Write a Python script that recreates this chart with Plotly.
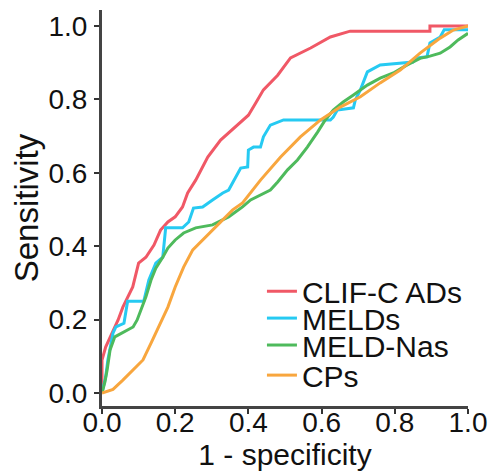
import plotly.graph_objects as go

# ROC curves
names = ["CLIF-C ADs", "MELDs", "MELD-Nas", "CPs"]
colors = ["rgb(240,88,102)", "rgb(38,202,242)", "rgb(78,186,92)", "rgb(248,166,62)"]

x_red = [0, 0.0, 0.01, 0.019, 0.03, 0.044, 0.057, 0.071, 0.084, 0.10, 0.12, 0.142, 0.16, 0.18, 0.20, 0.22,
         0.234, 0.256, 0.289, 0.324, 0.36, 0.40, 0.42, 0.441, 0.48, 0.515, 0.57, 0.624, 0.678, 0.896, 0.896, 1.0]
y_red = [0, 0.09, 0.125, 0.144, 0.172, 0.199, 0.234, 0.262, 0.289, 0.354, 0.37, 0.403, 0.444, 0.466, 0.48, 0.507,
         0.545, 0.58, 0.643, 0.689, 0.722, 0.757, 0.79, 0.826, 0.866, 0.913, 0.94, 0.97, 0.986, 0.986, 1.0, 1.0]

x_cyan = [0, 0.01, 0.016, 0.022, 0.03, 0.038, 0.06, 0.07, 0.114, 0.128, 0.147, 0.166, 0.174, 0.22, 0.237, 0.25,
          0.275, 0.302, 0.33, 0.346, 0.36, 0.379, 0.398, 0.40, 0.414, 0.433, 0.441, 0.46, 0.496, 0.624, 0.632,
          0.643, 0.687, 0.692, 0.706, 0.725, 0.76, 0.834, 0.85, 0.861, 0.888, 0.896, 0.924, 0.935, 0.96, 1.0]
y_cyan = [0, 0.044, 0.09, 0.125, 0.163, 0.18, 0.19, 0.25, 0.25, 0.308, 0.354, 0.37, 0.45, 0.45, 0.466, 0.504,
          0.507, 0.526, 0.545, 0.553, 0.58, 0.613, 0.616, 0.662, 0.67, 0.67, 0.698, 0.73, 0.744, 0.744, 0.752,
          0.771, 0.777, 0.798, 0.826, 0.875, 0.894, 0.902, 0.902, 0.913, 0.916, 0.954, 0.97, 0.99, 0.99, 0.99]

x_green = [0, 0.008, 0.014, 0.022, 0.035, 0.055, 0.071, 0.085, 0.096, 0.106, 0.12, 0.134, 0.147, 0.166, 0.18,
           0.20, 0.223, 0.256, 0.302, 0.346, 0.384, 0.406, 0.433, 0.46, 0.48, 0.507, 0.534, 0.561, 0.589, 0.61,
           0.632, 0.659, 0.687, 0.725, 0.76, 0.796, 0.834, 0.869, 0.896, 0.924, 0.951, 0.973, 1.0]
y_green = [0, 0.03, 0.063, 0.117, 0.153, 0.163, 0.172, 0.18, 0.199, 0.226, 0.262, 0.308, 0.34, 0.37, 0.395,
           0.417, 0.436, 0.45, 0.458, 0.48, 0.507, 0.526, 0.54, 0.553, 0.575, 0.608, 0.635, 0.67, 0.711, 0.744,
           0.771, 0.793, 0.812, 0.839, 0.858, 0.872, 0.894, 0.912, 0.918, 0.926, 0.943, 0.962, 0.98]

x_orange = [0, 0.03, 0.057, 0.084, 0.112, 0.134, 0.155, 0.18, 0.20, 0.223, 0.248, 0.275, 0.302, 0.33, 0.357,
            0.384, 0.433, 0.488, 0.542, 0.597, 0.651, 0.706, 0.76, 0.815, 0.869, 0.924, 0.96, 1.0]
y_orange = [0, 0.01, 0.035, 0.063, 0.09, 0.136, 0.18, 0.234, 0.289, 0.343, 0.39, 0.417, 0.444, 0.471, 0.499,
            0.518, 0.58, 0.643, 0.698, 0.744, 0.779, 0.807, 0.845, 0.88, 0.926, 0.967, 0.989, 1.0]

tick_vals = [0.0, 0.2, 0.4, 0.6, 0.8, 1.0]
tick_text = ["0.0", "0.2", "0.4", "0.6", "0.8", "1.0"]

series_x = [x_red, x_cyan, x_green, x_orange]
series_y = [y_red, y_cyan, y_green, y_orange]
legend_ids = ["legend", "legend2", "legend3", "legend4"]
legend_y = [0.29, 0.222, 0.154, 0.078]

FONT = "Liberation Sans, Arial, sans-serif"

fig = go.Figure()
for nm, c, xs, ys, lid in zip(names, colors, series_x, series_y, legend_ids):
    fig.add_trace(go.Scatter(x=xs, y=ys, mode="lines", name=nm,
                             line=dict(color=c, width=3), legend=lid))

legend_common = dict(font=dict(family=FONT, size=30, color="#111"), bgcolor="rgba(0,0,0,0)",
                     borderwidth=0, xanchor="left", yanchor="middle", itemwidth=30)
lay = {}
for lid, ly in zip(legend_ids, legend_y):
    lay[lid] = dict(x=0.437, y=ly, **legend_common)

# the page body has an 8px margin, so the figure is 8px smaller than the window
fig.update_layout(
    width=488, height=467,
    margin=dict(l=94, r=28, t=2, b=69, autoexpand=False),
    paper_bgcolor="white", plot_bgcolor="white",
    font=dict(family=FONT, color="#111"),
    showlegend=True,
    xaxis=dict(range=[0, 1.0], tickvals=tick_vals, ticktext=tick_text, automargin=False,
               showgrid=False, zeroline=False, showline=True, linecolor="#444", linewidth=3,
               ticks="outside", ticklen=5, tickwidth=2, tickcolor="#333", ticklabelstandoff=-16,
               tickfont=dict(family=FONT, size=28, color="#111"),
               title=dict(text="1 - specificity", font=dict(family=FONT, size=30, color="#111"), standoff=0)),
    yaxis=dict(range=[-0.0354, 1.0436], tickvals=tick_vals, ticktext=tick_text, automargin=False,
               showgrid=False, zeroline=False, showline=True, linecolor="#444", linewidth=3,
               ticks="outside", ticklen=5, tickwidth=2, tickcolor="#333", ticklabelstandoff=1,
               tickfont=dict(family=FONT, size=28, color="#111"),
               title=dict(text="Sensitivity", font=dict(family=FONT, size=33, color="#111"), standoff=2)),
    **lay,
)

fig.write_html("out.html")
